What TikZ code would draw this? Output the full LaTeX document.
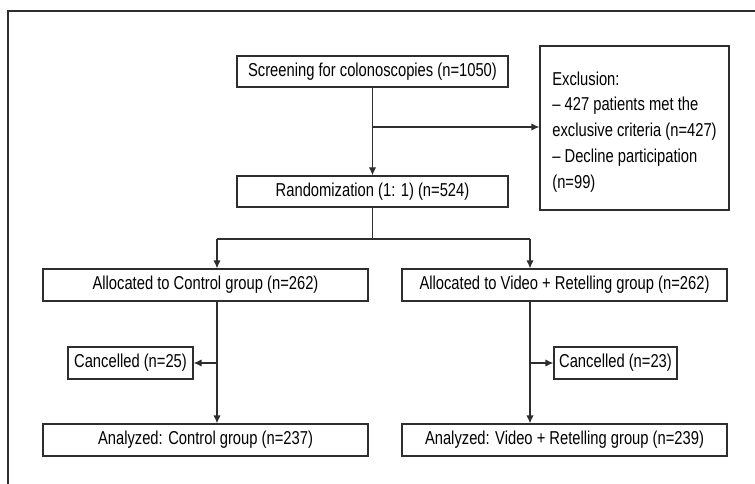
\documentclass[tikz,border=0pt]{standalone}
\usepackage{fontspec}
\setmainfont{Liberation Sans}[FakeStretch=0.79]
\usetikzlibrary{arrows.meta}
\definecolor{ln}{HTML}{2E2E2E}
\tikzset{
  box/.style={draw=ln, line width=0.9pt, inner sep=0pt, font=\fontsize{14}{16}\selectfont, text=black},
  conn/.style={draw=ln, line width=0.9pt},
  arr/.style={conn, -{Latex[length=6pt,width=5.5pt]}}
}
\begin{document}
\begin{tikzpicture}[x=0.75pt,y=-0.75pt]
\useasboundingbox (0,0) rectangle (755,484);
\draw[conn] (8,484) -- (8,11) -- (755,11);
\node[box, minimum width=271*0.75pt, minimum height=31*0.75pt] (screen) at (372.5,71.5) {Screening for colonoscopies (n=1050)};
\node[box, minimum width=271*0.75pt, minimum height=31*0.75pt] (rand) at (372.5,191.5) {Randomization (1: 1) (n=524)};
\node[box, minimum width=189*0.75pt, minimum height=164*0.75pt, align=left, font=\fontsize{14}{19.3}\selectfont] (excl) at (634.5,128) {\rule{0pt}{16pt}Exclusion:\\ -- 427 patients met the\\ exclusive criteria (n=427)\\ -- Decline participation\\ (n=99)};
\node[box, minimum width=325*0.75pt, minimum height=32*0.75pt] (allocC) at (205.5,285) {Allocated to Control group (n=262)};
\node[box, minimum width=325*0.75pt, minimum height=32*0.75pt] (allocV) at (564.5,285) {Allocated to Video + Retelling group (n=262)};
\node[box, minimum width=125*0.75pt, minimum height=32*0.75pt] (cancC) at (130.5,363) {Cancelled (n=25)};
\node[box, minimum width=123*0.75pt, minimum height=32*0.75pt] (cancV) at (615.5,363) {Cancelled (n=23)};
\node[box, minimum width=325*0.75pt, minimum height=32*0.75pt] (anC) at (205.5,440) {Analyzed: Control group (n=237)};
\node[box, minimum width=325*0.75pt, minimum height=32*0.75pt] (anV) at (564.5,440) {Analyzed: Video + Retelling group (n=239)};
\coordinate (j1) at (372.5,127);
\coordinate (j2) at (372.5,239);
\coordinate (jl) at (217,239);
\coordinate (jr) at (530,239);
\coordinate (kl) at (217,363);
\coordinate (kr) at (530,363);
\draw[arr] (screen.south) -- (rand.north);
\draw[arr] (j1) -- (excl.west |- j1);
\draw[conn] (rand.south) -- (j2);
\draw[conn] (jl) -- (jr);
\draw[arr] (jl) -- (jl |- allocC.north);
\draw[arr] (jr) -- (jr |- allocV.north);
\draw[arr] (jl |- allocC.south) -- (jl |- anC.north);
\draw[arr] (jr |- allocV.south) -- (jr |- anV.north);
\draw[arr] (kl) -- (cancC.east);
\draw[arr] (kr) -- (cancV.west);
\end{tikzpicture}
\end{document}
